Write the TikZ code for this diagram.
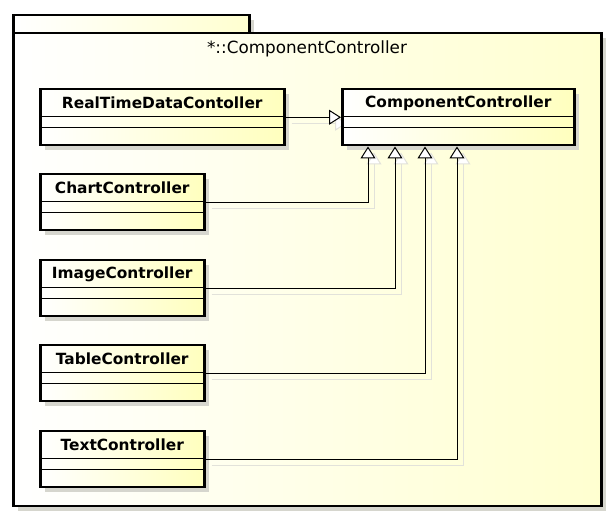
\documentclass[tikz,border=0pt]{standalone}
\usepackage{fontspec}
\setmainfont{DejaVu Sans}
\usetikzlibrary{arrows.meta,calc}
\definecolor{boxyel}{HTML}{FFFFBE}
\definecolor{pkgyel}{HTML}{FFFFD0}
\definecolor{shad}{HTML}{D6D6CE}
\definecolor{lshad}{HTML}{E2E2DA}
\tikzset{
  x=1pt, y=-1pt,
  cls/.style={draw, line width=2.5pt, left color=white, right color=boxyel,
    rectangle, anchor=north west, minimum height=56pt, inner sep=0pt},
  clsname/.style={font=\bfseries\fontsize{15.4}{17}\selectfont, anchor=center, inner sep=0pt},
  comp/.style={line width=1pt},
  conn/.style={line width=1pt, -{Triangle[open, length=12pt, width=15pt, fill=white]}},
  sconn/.style={line width=1pt, draw=lshad, -{Triangle[open, length=12pt, width=15pt, fill=white]}},
  pkgbox/.style={draw, line width=2.5pt, left color=white, right color=pkgyel,
    rectangle, anchor=north west, inner sep=0pt},
}
\newcommand{\ucls}[5]{%
  \fill[shad] (#2+6,#3+6) rectangle ++(#4,56);
  \node[cls, minimum width=#4pt] (#1) at (#2,#3) {};
  \draw[comp] ($(#1.north west)+(0,29)$) -- ($(#1.north east)+(0,29)$);
  \draw[comp] ($(#1.north west)+(0,40)$) -- ($(#1.north east)+(0,40)$);
  \node[clsname] (#1-name) at ($(#1.north)+(0,15)$) {#5};
}
\begin{document}
\begin{tikzpicture}
\useasboundingbox (0,0) rectangle (614,518);
% package shadows
\fill[shad] (18,20) rectangle (254,38);
\fill[shad] (18,38) rectangle (606,511);
% package
\node[pkgbox, minimum width=236pt, minimum height=19pt] (tab) at (12,14) {};
\node[pkgbox, minimum width=588pt, minimum height=473pt] (pkg) at (12,32) {};
\node[font=\fontsize{16.8}{18}\selectfont] (title) at (307,49) {*::ComponentController};
% classes
\ucls{rt}{39}{88}{244}{RealTimeDataContoller}
\ucls{cc}{341}{88}{232}{ComponentController}
% connector shadows
\draw[sconn] ($(rt.east)+(6,6)$) -- ($(cc.west)+(6,6)$);
\ucls{chart}{39}{173}{164}{ChartController}
\ucls{image}{39}{259}{164}{ImageController}
\ucls{table}{39}{344}{164}{TableController}
\ucls{text}{39}{430}{164}{TextController}
\draw[sconn] ($(chart.east)+(6,6)$) -| ($(cc.south west)+(33,6)$);
\draw[sconn] ($(image.east)+(6,6)$) -| ($(cc.south west)+(60,6)$);
\draw[sconn] ($(table.east)+(6,6)$) -| ($(cc.south west)+(90,6)$);
\draw[sconn] ($(text.east)+(6,6)$) -| ($(cc.south west)+(122,6)$);
% redraw cc on top of connector shadow
\ucls{cc}{341}{88}{232}{ComponentController}
% connectors
\draw[conn] (rt.east) -- (cc.west);
\draw[conn] (chart.east) -| ($(cc.south west)+(27,0)$);
\draw[conn] (image.east) -| ($(cc.south west)+(54,0)$);
\draw[conn] (table.east) -| ($(cc.south west)+(84,0)$);
\draw[conn] (text.east) -| ($(cc.south west)+(116,0)$);
\end{tikzpicture}
\end{document}
